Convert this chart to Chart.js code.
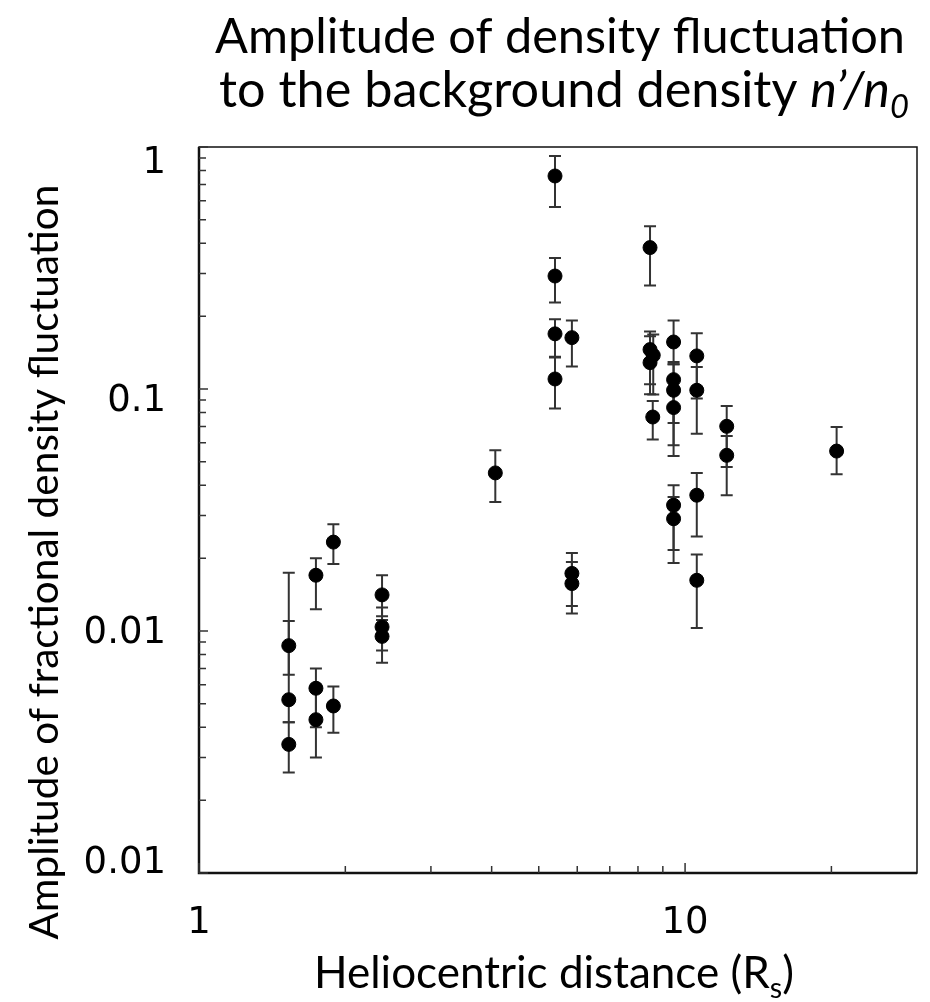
<!DOCTYPE html>
<html>
<head>
<meta charset="utf-8">
<script src="https://cdn.jsdelivr.net/npm/chart.js@4.4.1/dist/chart.umd.min.js"></script>
<style>
  html, body { margin: 0; padding: 0; background: #fff; }
  #wrap { width: 930px; height: 1002px; }
</style>
</head>
<body>
<div id="wrap"><canvas id="chart"></canvas></div>
<script>
// Data (heliocentric distance in Rs, fractional amplitude)
const distances = [1.53, 1.53, 1.53, 1.74, 1.74, 1.74, 1.89, 1.89, 2.38, 2.38, 2.38,
  4.07, 5.40, 5.40, 5.40, 5.40, 5.85, 5.85, 5.85, 8.47, 8.47, 8.60, 8.47, 8.58,
  9.47, 9.47, 9.47, 9.47, 9.47, 9.47, 10.57, 10.57, 10.57, 10.57, 12.18, 12.18, 20.5];
const amplitudes = [0.0087, 0.0052, 0.0034, 0.0170, 0.0058, 0.0043, 0.0233, 0.0049, 0.0141, 0.0104, 0.0095,
  0.0450, 0.759, 0.293, 0.169, 0.110, 0.163, 0.0173, 0.0157, 0.384, 0.1455, 0.1378, 0.1285, 0.0766,
  0.1564, 0.1093, 0.0988, 0.0838, 0.0331, 0.0291, 0.137, 0.0988, 0.0364, 0.0162, 0.0701, 0.0532, 0.0554];
const errLow = [0.0066, 0.0042, 0.0026, 0.0123, 0.0040, 0.0030, 0.0189, 0.0038, 0.0115, 0.0083, 0.0074,
  0.0341, 0.565, 0.228, 0.135, 0.083, 0.124, 0.0127, 0.0118, 0.268, 0.1045, 0.095, 0.0951, 0.0618,
  0.1265, 0.0724, 0.0585, 0.0528, 0.0216, 0.0191, 0.0913, 0.0654, 0.0246, 0.0103, 0.0476, 0.0364, 0.0444];
const errHigh = [0.0174, 0.0110, 0.0042, 0.0200, 0.0070, 0.0059, 0.0276, 0.0059, 0.0170, 0.0125, 0.0111,
  0.0558, 0.918, 0.348, 0.194, 0.136, 0.192, 0.0210, 0.0193, 0.470, 0.173, 0.168, 0.165, 0.0892,
  0.192, 0.1293, 0.1265, 0.1000, 0.0400, 0.0358, 0.170, 0.1233, 0.0450, 0.0207, 0.0851, 0.0639, 0.0697];

// Axes
const xTickValues = [1, 10];
const xTickLabels = ['1', '10'];
const xMinorTicks = [2, 3, 4, 5, 6, 7, 8, 9, 20];
const yTickValues = [1, 0.1, 0.01, 0.001];
const yTickLabels = ['1', '0.1', '0.01', '0.01'];
const yMinorTicks = [0.002, 0.003, 0.004, 0.005, 0.006, 0.007, 0.008, 0.009,
  0.02, 0.03, 0.04, 0.05, 0.06, 0.07, 0.08, 0.09,
  0.2, 0.3, 0.4, 0.5, 0.6, 0.7, 0.8, 0.9];

const titleLine1 = [{ t: 'Amplitude of density fluctuation' }];
const titleLine2 = [{ t: 'to the background density ' }, { t: 'n\u2019/n', i: true }, { t: '0', i: true, sub: true }];
const xTitle = [{ t: 'Heliocentric distance (R' }, { t: 's', sub: true }, { t: ')' }];
const yTitle = [{ t: 'Amplitude of fractional density fluctuation' }];

const TEXT_FONT = 'Lato';
const TICK_FONT = '"DejaVu Sans"';

// labels in the original sit a little below their ticks (baseline offsets)
const yLabelNudge = [26, 22, 12, 0];

function richWidth(ctx, segs, size) {
  let w = 0;
  segs.forEach(s => {
    const sz = s.sub ? size * 0.65 : size;
    ctx.font = `${s.i ? 'italic ' : ''}${sz}px ${TEXT_FONT}`;
    w += ctx.measureText(s.t).width;
  });
  return w;
}

// draw mixed text centred on cx, scaled so it spans the given width
function drawRich(ctx, segs, cx, y, width) {
  const size = 40 * width / richWidth(ctx, segs, 40);
  let x = cx - richWidth(ctx, segs, size) / 2;
  ctx.textAlign = 'left';
  ctx.textBaseline = 'alphabetic';
  segs.forEach(s => {
    const sz = s.sub ? size * 0.65 : size;
    ctx.font = `${s.i ? 'italic ' : ''}${sz}px ${TEXT_FONT}`;
    ctx.fillText(s.t, x, s.sub ? y + size * 0.22 : y);
    x += ctx.measureText(s.t).width;
  });
}

const errorBars = {
  id: 'errorBars',
  beforeDatasetsDraw(chart) {
    const { ctx, scales: { x, y } } = chart;
    ctx.save();
    ctx.strokeStyle = '#333';
    ctx.lineWidth = 2;
    distances.forEach((d, i) => {
      const px = x.getPixelForValue(d);
      const top = y.getPixelForValue(errHigh[i]);
      const bot = y.getPixelForValue(errLow[i]);
      ctx.beginPath();
      ctx.moveTo(px, top); ctx.lineTo(px, bot);
      ctx.moveTo(px - 6, top); ctx.lineTo(px + 6, top);
      ctx.moveTo(px - 6, bot); ctx.lineTo(px + 6, bot);
      ctx.stroke();
    });
    ctx.restore();
  }
};

const frame = {
  id: 'frame',
  afterDraw(chart) {
    const { ctx, chartArea: a, scales: { x, y } } = chart;
    ctx.save();
    ctx.strokeStyle = '#111';
    ctx.lineWidth = 1.5;
    ctx.strokeRect(a.left, a.top, a.right - a.left, a.bottom - a.top);
    ctx.lineWidth = 2.5;
    ctx.beginPath();
    ctx.moveTo(a.left, a.top); ctx.lineTo(a.left, a.bottom); ctx.lineTo(a.right, a.bottom);
    ctx.stroke();

    // inward tick marks
    ctx.strokeStyle = '#333';
    ctx.lineWidth = 1.5;
    ctx.beginPath();
    yMinorTicks.forEach(v => { const p = y.getPixelForValue(v); ctx.moveTo(a.left, p); ctx.lineTo(a.left + 7, p); });
    yTickValues.forEach(v => { const p = y.getPixelForValue(v); ctx.moveTo(a.left, p); ctx.lineTo(a.left + 9, p); });
    xMinorTicks.forEach(v => { const p = x.getPixelForValue(v); ctx.moveTo(p, a.bottom); ctx.lineTo(p, a.bottom - 7); });
    xTickValues.forEach(v => { const p = x.getPixelForValue(v); ctx.moveTo(p, a.bottom); ctx.lineTo(p, a.bottom - 10); });
    ctx.stroke();

    // tick labels
    ctx.fillStyle = '#000';
    ctx.font = `37px ${TICK_FONT}`;
    ctx.textAlign = 'right';
    ctx.textBaseline = 'alphabetic';
    yTickValues.forEach((v, i) => ctx.fillText(yTickLabels[i], a.left - 33, y.getPixelForValue(v) + yLabelNudge[i]));
    ctx.textAlign = 'center';
    xTickValues.forEach((v, i) => ctx.fillText(xTickLabels[i], x.getPixelForValue(v), a.bottom + 60));

    // titles
    const cx = (a.left + a.right) / 2;
    drawRich(ctx, titleLine1, cx + 2, 53, 690);
    drawRich(ctx, titleLine2, cx + 6, 107, 690);
    drawRich(ctx, xTitle, cx - 4, 988, 480);
    ctx.translate(58, 562);
    ctx.rotate(-Math.PI / 2);
    drawRich(ctx, yTitle, 0, 0, 755);
    ctx.restore();
  }
};

new Chart(document.getElementById('chart'), {
  type: 'scatter',
  data: {
    datasets: [{
      data: distances.map((d, i) => ({ x: d, y: amplitudes[i] })),
      backgroundColor: '#000',
      borderColor: '#000',
      pointRadius: 7,
      pointHoverRadius: 7
    }]
  },
  options: {
    responsive: true,
    maintainAspectRatio: false,
    animation: false,
    layout: { padding: { top: 147, right: 13, left: 0, bottom: 0 } },
    plugins: { legend: { display: false }, tooltip: { enabled: false } },
    scales: {
      x: {
        type: 'logarithmic', min: 1, max: 30,
        grid: { display: false }, border: { display: false },
        ticks: { display: false },
        afterFit: s => { s.height = 129; }
      },
      y: {
        type: 'logarithmic', min: 0.001, max: 1,
        grid: { display: false }, border: { display: false },
        ticks: { display: false },
        afterFit: s => { s.width = 199; }
      }
    }
  },
  plugins: [errorBars, frame]
});
</script>
</body>
</html>
